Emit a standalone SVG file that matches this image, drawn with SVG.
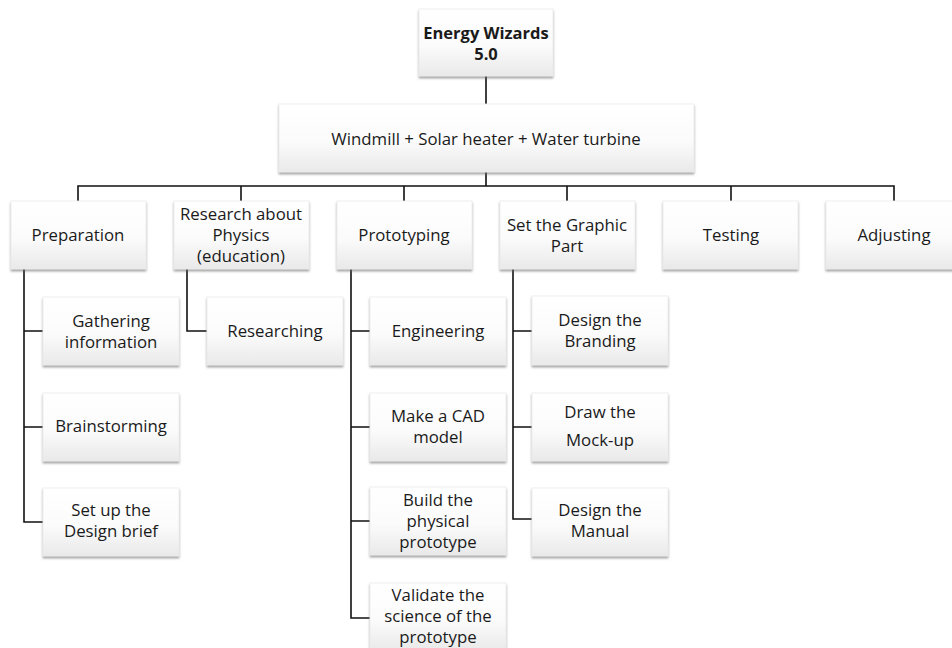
<svg xmlns="http://www.w3.org/2000/svg" width="952" height="648" viewBox="0 0 952 648">
<defs>
<linearGradient id="g" x1="0" y1="0" x2="0" y2="1">
<stop offset="0" stop-color="#ffffff"/>
<stop offset="0.55" stop-color="#fbfbfb"/>
<stop offset="1" stop-color="#e9e9e9"/>
</linearGradient>
<filter id="sh" x="-10%" y="-10%" width="120%" height="130%">
<feDropShadow dx="0" dy="2" stdDeviation="1.3" flood-color="#666" flood-opacity="0.6"/>
</filter>
</defs>
<style>
.box{fill:url(#g);stroke:#ececec;stroke-width:0.8;filter:url(#sh)}
text{font-family:"Open Sans","Noto Sans",sans-serif;font-size:16.8px;fill:#1a1a1a;text-anchor:middle}
.b{font-weight:bold;font-size:16.5px}
.c{fill:none;stroke:#111;stroke-width:1.6}
</style>
<rect width="952" height="648" fill="#fff"/>
<g id="connectors">
<path class="c" d="M486 76V104M486 172V186M78 201V186H894V201M241 186V201M404 186V201M567 186V201M731 186V201"/>
<path class="c" d="M24 269V522H43M24 331H43M24 427H43"/>
<path class="c" d="M187 269V331H207"/>
<path class="c" d="M351 269V618H370M351 331H370M351 427H370M351 521H370"/>
<path class="c" d="M513 269V519H532M513 331H532M513 427H532"/>
</g>
<g id="root"><rect class="box" x="419" y="9" width="134" height="67"/><text class="b" x="486" y="39">Energy Wizards</text><text class="b" x="486" y="60">5.0</text></g>
<g id="main"><rect class="box" x="279" y="104" width="415" height="68"/><text x="486" y="145">Windmill + Solar heater + Water turbine</text></g>
<g id="preparation"><rect class="box" x="11" y="201" width="135" height="68"/><text x="78" y="241">Preparation</text></g>
<g id="research"><rect class="box" x="174" y="201" width="135" height="68"/><text x="241" y="220">Research about</text><text x="241" y="241">Physics</text><text x="241" y="262">(education)</text></g>
<g id="prototyping"><rect class="box" x="337" y="201" width="135" height="68"/><text x="404" y="241">Prototyping</text></g>
<g id="graphic"><rect class="box" x="500" y="201" width="135" height="68"/><text x="567" y="231">Set the Graphic</text><text x="567" y="252">Part</text></g>
<g id="testing"><rect class="box" x="663" y="201" width="135" height="68"/><text x="731" y="241">Testing</text></g>
<g id="adjusting"><rect class="box" x="826" y="201" width="135" height="68"/><text x="894" y="241">Adjusting</text></g>
<g id="gathering"><rect class="box" x="43" y="297" width="136" height="68"/><text x="111" y="327">Gathering</text><text x="111" y="348">information</text></g>
<g id="brainstorming"><rect class="box" x="43" y="393" width="136" height="68"/><text x="111" y="432">Brainstorming</text></g>
<g id="designbrief"><rect class="box" x="43" y="488" width="136" height="68"/><text x="111" y="516">Set up the</text><text x="111" y="537">Design brief</text></g>
<g id="researching"><rect class="box" x="207" y="297" width="136" height="68"/><text x="275" y="337">Researching</text></g>
<g id="engineering"><rect class="box" x="370" y="297" width="136" height="68"/><text x="438" y="337">Engineering</text></g>
<g id="cad"><rect class="box" x="370" y="393" width="136" height="68"/><text x="438" y="422">Make a CAD</text><text x="438" y="443">model</text></g>
<g id="build"><rect class="box" x="370" y="487" width="136" height="68"/><text x="438" y="506">Build the</text><text x="438" y="527">physical</text><text x="438" y="548">prototype</text></g>
<g id="validate"><rect class="box" x="370" y="583" width="136" height="68"/><text x="438" y="601">Validate the</text><text x="438" y="622">science of the</text><text x="438" y="643">prototype</text></g>
<g id="branding"><rect class="box" x="532" y="296" width="136" height="69"/><text x="600" y="326">Design the</text><text x="600" y="347">Branding</text></g>
<g id="mockup"><rect class="box" x="532" y="393" width="136" height="68"/><text x="600" y="418">Draw the</text><text x="600" y="446">Mock-up</text></g>
<g id="manual"><rect class="box" x="532" y="488" width="136" height="68"/><text x="600" y="516">Design the</text><text x="600" y="537">Manual</text></g>
</svg>
